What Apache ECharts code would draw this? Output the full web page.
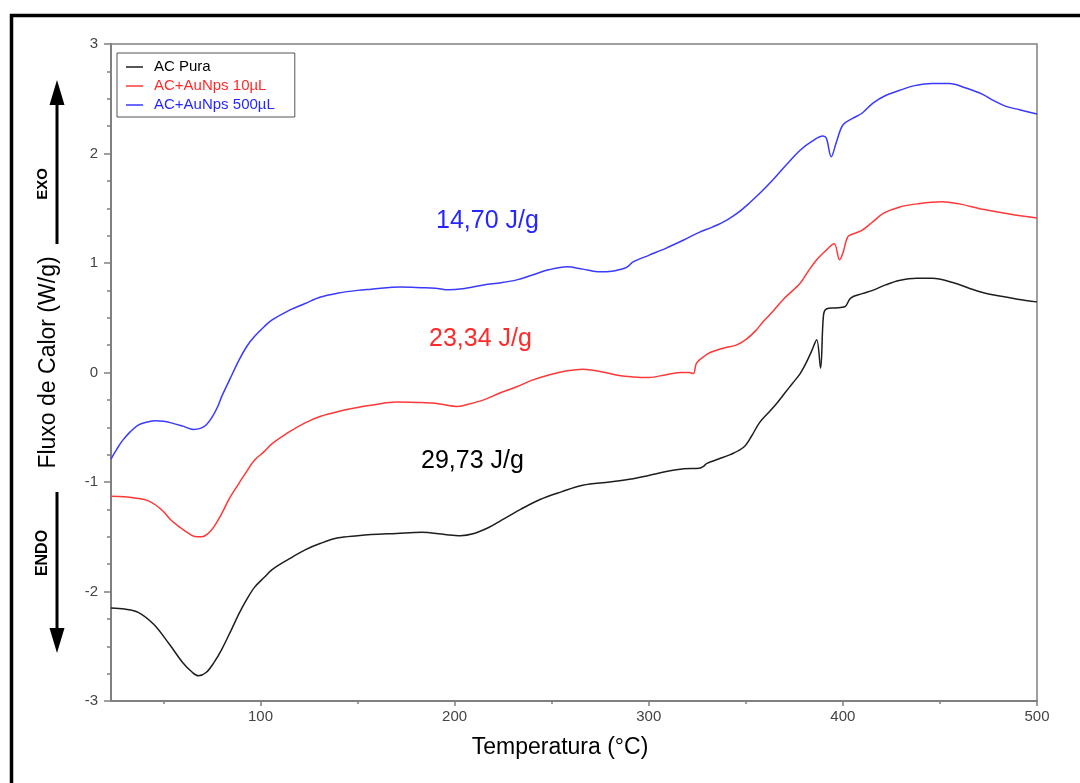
<!DOCTYPE html>
<html>
<head>
<meta charset="utf-8">
<script src="https://cdn.jsdelivr.net/npm/echarts@6/dist/echarts.min.js"></script>
<style>
html,body{margin:0;padding:0;background:#fff;}
#chart{width:1080px;height:783px;}
</style>
</head>
<body>
<div id="chart"></div>
<script>
// ---- data ----
var seriesNames = ['AC Pura', 'AC+AuNps 10\u00b5L', 'AC+AuNps 500\u00b5L'];
var xTickValues = [100, 200, 300, 400, 500];
var xMinorTickValues = [50, 150, 250, 350, 450];
var annotations = ['14,70 J/g', '23,34 J/g', '29,73 J/g'];

// [Temperatura (°C), Fluxo de Calor (W/g)]
var acPura = [
  [23,-2.15],[30,-2.16],[37,-2.19],[45,-2.30],[53,-2.48],[60,-2.65],[65,-2.74],[68,-2.77],
  [72,-2.74],[76,-2.65],[80,-2.53],[85,-2.35],[89,-2.20],[93,-2.07],[97,-1.96],[102,-1.87],
  [106,-1.80],[115,-1.70],[123,-1.62],[131,-1.56],[140,-1.51],[150,-1.49],[157,-1.48],
  [170,-1.47],[183,-1.46],[195,-1.48],[203,-1.49],[210,-1.47],[217,-1.42],[224,-1.35],
  [234,-1.25],[244,-1.16],[255,-1.09],[266,-1.03],[280,-1.00],[292,-0.97],[300,-0.94],
  [309,-0.905],[318,-0.88],[326,-0.875],[328,-0.86],[330,-0.83],[336,-0.79],[342,-0.75],
  [349,-0.68],[353,-0.58],[357,-0.46],[362,-0.36],[366,-0.28],[370,-0.19],[374,-0.10],
  [378,-0.01],[381,0.085],[384,0.20],[386.5,0.30],[388.5,0.04],[390,0.52],[391.5,0.58],
  [396,0.59],[401,0.60],[404,0.68],[410,0.72],[416,0.755],[422,0.80],[429,0.84],[438,0.86],
  [446,0.86],[457,0.82],[465,0.77],[472,0.73],[480,0.70],[490,0.67],[500,0.645]
];
var acAu10 = [
  [23,-1.13],[30,-1.135],[37,-1.15],[42,-1.17],[46,-1.21],[50,-1.27],[54,-1.35],[59,-1.42],
  [63,-1.47],[67,-1.50],[70,-1.50],[73,-1.47],[76,-1.41],[80,-1.29],[84,-1.15],[89,-1.01],
  [93,-0.90],[97,-0.80],[102,-0.72],[106,-0.65],[115,-0.54],[123,-0.46],[131,-0.40],
  [140,-0.357],[150,-0.32],[157,-0.30],[170,-0.27],[183,-0.275],[190,-0.28],[196,-0.30],
  [201,-0.31],[207,-0.29],[215,-0.25],[223,-0.19],[232,-0.13],[240,-0.07],[249,-0.02],
  [258,0.015],[266,0.03],[275,0.01],[284,-0.025],[292,-0.04],[300,-0.045],[309,-0.02],
  [317,0.00],[321,0.00],[323,-0.01],[324.6,0.085],[328,0.14],[331.4,0.18],[338,0.22],
  [345,0.25],[350,0.30],[355,0.38],[359,0.465],[364,0.56],[370,0.68],[378,0.815],[382,0.92],
  [386.5,1.03],[391,1.11],[395.5,1.175],[398.3,1.03],[400,1.09],[402.6,1.24],[406,1.27],
  [410,1.30],[415,1.37],[421,1.455],[429,1.51],[438,1.54],[451,1.56],[460,1.54],[472,1.49],
  [485,1.45],[500,1.41]
];
var acAu500 = [
  [23,-0.79],[26,-0.70],[29,-0.62],[33,-0.54],[37,-0.48],[41,-0.455],[46,-0.44],[50,-0.445],
  [54,-0.46],[60,-0.49],[65.5,-0.52],[69,-0.51],[72,-0.48],[75,-0.41],[78,-0.31],[80,-0.22],
  [84,-0.07],[89,0.115],[93,0.24],[97,0.33],[102,0.42],[106,0.48],[115,0.57],[123,0.63],
  [131,0.69],[140,0.725],[150,0.75],[157,0.76],[172,0.78],[183,0.775],[190,0.77],[197,0.755],
  [204,0.765],[215,0.80],[224,0.82],[232,0.846],[240,0.89],[249,0.94],[258,0.965],[266,0.944],
  [275,0.92],[281,0.925],[285,0.94],[288.6,0.96],[292,1.01],[300,1.07],[309,1.136],[318,1.21],
  [326,1.28],[333,1.33],[340,1.39],[346,1.46],[352,1.55],[358,1.65],[364,1.76],[371,1.90],
  [378,2.03],[384,2.11],[389.7,2.16],[391.5,2.14],[394,1.97],[396.6,2.10],[400,2.26],
  [405,2.32],[410,2.37],[415.5,2.46],[422,2.53],[429,2.575],[437,2.62],[446,2.64],[455,2.64],
  [463,2.60],[472,2.54],[478,2.48],[484,2.43],[491,2.40],[500,2.36]
];

var colors = ['#1e1e1e', '#ff3838', '#3a3aff'];
var textColors = ['#000000', '#ff2a2a', '#2626ff'];
var axisColor = '#808080';
var font = '"Liberation Sans", Arial, sans-serif';

var chart = echarts.init(document.getElementById('chart'), null, {renderer: 'canvas'});

function mkSeries(name, data, color) {
  return {
    name: name, type: 'line', data: data, xAxisIndex: 0, yAxisIndex: 0,
    showSymbol: false, symbol: 'none', smooth: 0.35,
    lineStyle: {color: color, width: 1.5}, itemStyle: {color: color},
    animation: false
  };
}

var option = {
  backgroundColor: '#ffffff',
  animation: false,
  textStyle: {fontFamily: font},
  grid: {left: 111, top: 44, right: 43, bottom: 82, show: true, borderColor: axisColor, borderWidth: 1.5, containLabel: false},
  legend: {
    orient: 'vertical', left: 117, top: 53,
    padding: [6, 20, 4, 9], itemGap: 3, itemWidth: 17, itemHeight: 1.5, icon: 'rect',
    borderColor: '#555', borderWidth: 1, backgroundColor: '#fff',
    textStyle: {fontSize: 15, lineHeight: 16, fontFamily: font, padding: [0, 0, 0, 6]},
    data: seriesNames.map(function (n, i) { return {name: n, textStyle: {color: textColors[i]}}; })
  },
  xAxis: [
    {
      type: 'value', min: 23, max: 500, position: 'bottom',
      axisLine: {show: true, onZero: false, lineStyle: {color: axisColor, width: 2}},
      axisTick: {show: true, customValues: xTickValues, length: 5, lineStyle: {color: axisColor, width: 1.5}},
      axisLabel: {customValues: xTickValues, color: '#444', fontSize: 15, margin: 8, fontFamily: font},
      splitLine: {show: false},
      name: 'Temperatura (\u00b0C)', nameLocation: 'middle', nameGap: 35,
      nameTextStyle: {fontSize: 23, color: '#000', fontFamily: font, padding: [0, 28, 0, 0]}
    },
    {
      type: 'value', min: 23, max: 500, position: 'bottom', gridIndex: 0,
      axisLine: {show: false, onZero: false},
      axisTick: {show: true, customValues: xMinorTickValues, length: 3, lineStyle: {color: axisColor, width: 1.5}},
      axisLabel: {show: false}, splitLine: {show: false}
    }
  ],
  yAxis: {
    type: 'value', min: -3, max: 3, interval: 1,
    axisLine: {show: true, onZero: false, lineStyle: {color: axisColor, width: 2}},
    axisTick: {show: true, length: 7, lineStyle: {color: axisColor, width: 1.5}},
    minorTick: {show: true, splitNumber: 4, length: 4, lineStyle: {color: axisColor, width: 1.5}},
    axisLabel: {color: '#444', fontSize: 15, margin: 13, fontFamily: font},
    splitLine: {show: false},
    name: 'Fluxo de Calor (W/g)', nameLocation: 'middle', nameGap: 51,
    nameTextStyle: {fontSize: 23, color: '#000', fontFamily: font, padding: [0, 0, 0, 20]}
  },
  series: [
    mkSeries(seriesNames[0], acPura, colors[0]),
    mkSeries(seriesNames[1], acAu10, colors[1]),
    mkSeries(seriesNames[2], acAu500, colors[2])
  ],
  graphic: [
    {type: 'rect', z: -1, silent: true, shape: {x: 11.5, y: 15.5, width: 1100, height: 800},
     style: {fill: 'none', stroke: '#000', lineWidth: 3.5}},
    // EXO arrow
    {type: 'line', silent: true, shape: {x1: 57, y1: 100, x2: 57, y2: 244}, style: {stroke: '#000', lineWidth: 3}},
    {type: 'polygon', silent: true, shape: {points: [[57, 80], [49.5, 105], [64.5, 105]]}, style: {fill: '#000'}},
    // ENDO arrow
    {type: 'line', silent: true, shape: {x1: 57, y1: 492, x2: 57, y2: 632}, style: {stroke: '#000', lineWidth: 3}},
    {type: 'polygon', silent: true, shape: {points: [[57, 653], [49.5, 628], [64.5, 628]]}, style: {fill: '#000'}},
    {type: 'text', silent: true, x: 43, y: 184, rotation: Math.PI / 2,
     style: {text: 'EXO', font: 'bold 15px ' + font, fill: '#000', align: 'center', verticalAlign: 'middle'}},
    {type: 'text', silent: true, x: 43, y: 553, rotation: Math.PI / 2,
     style: {text: 'ENDO', font: 'bold 16px ' + font, fill: '#000', align: 'center', verticalAlign: 'middle'}},
    // enthalpy annotations
    {type: 'text', silent: true, x: 436, y: 221,
     style: {text: annotations[0], font: '25px ' + font, fill: textColors[2], align: 'left', verticalAlign: 'middle'}},
    {type: 'text', silent: true, x: 429, y: 339,
     style: {text: annotations[1], font: '25px ' + font, fill: textColors[1], align: 'left', verticalAlign: 'middle'}},
    {type: 'text', silent: true, x: 421, y: 461,
     style: {text: annotations[2], font: '25px ' + font, fill: textColors[0], align: 'left', verticalAlign: 'middle'}}
  ]
};
chart.setOption(option);
</script>
</body>
</html>
